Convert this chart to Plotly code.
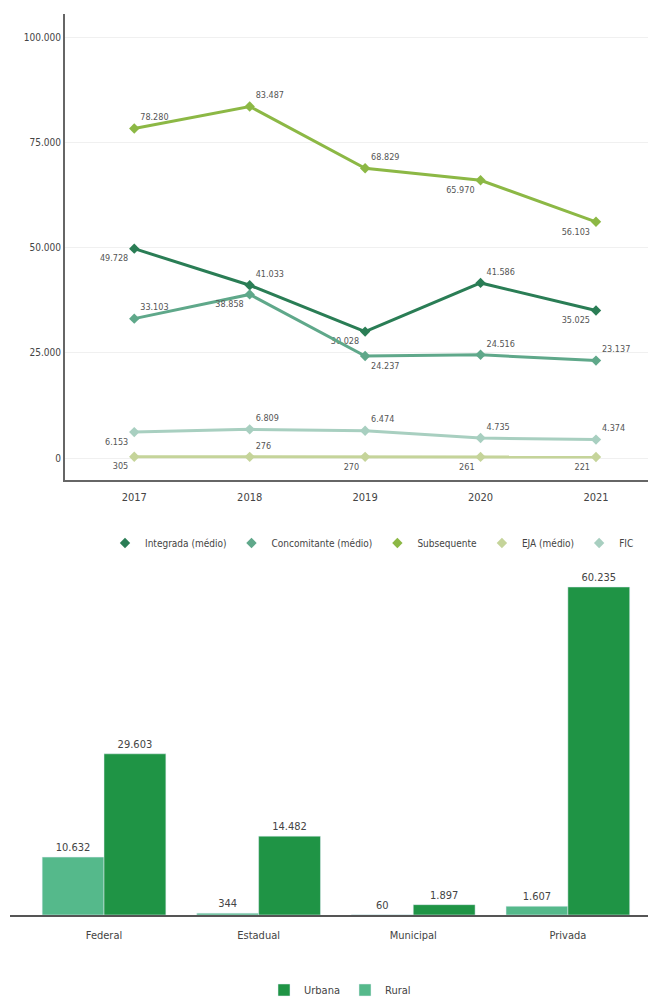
import plotly.graph_objects as go

# ---- Line chart data ----
years = ["2017", "2018", "2019", "2020", "2021"]
integrada = [49728, 41033, 30028, 41586, 35025]
concomitante = [33103, 38858, 24237, 24516, 23137]
subsequente = [78280, 83487, 68829, 65970, 56103]
eja = [305, 276, 270, 261, 221]
fic = [6153, 6809, 6474, 4735, 4374]

series_names = ["Integrada (médio)", "Concomitante (médio)", "Subsequente", "EJA (médio)", "FIC"]
y_ticks = [0, 25000, 50000, 75000, 100000]

# ---- Bar chart data ----
dependencias = ["Federal", "Estadual", "Municipal", "Privada"]
urbana = [29603, 14482, 1897, 60235]
rural = [10632, 344, 60, 1607]

# ---- styles ----
colors = ["#2a7d55", "#5fa88a", "#8cb845", "#c5d49a", "#a8cfc0"]
positions = [
    ["bottom left", "top right", "bottom left", "top right", "bottom left"],
    ["top right", "bottom left", "bottom right", "top right", "top right"],
    ["top right", "top right", "top right", "bottom left", "bottom left"],
    ["bottom left", "top right", "bottom left", "bottom left", "bottom left"],
    ["bottom left", "top right", "top right", "top right", "top right"],
]
FONT = "DejaVu Sans Condensed, Liberation Sans Narrow, Roboto, sans-serif"
W, H = 648, 993  # page body has an 8px margin; figure reaches the window bottom
OFF = 8

def fmt(v):
    return f"{v:,}".replace(",", ".")

def py(y_page):
    return 1 - (y_page - OFF) / H

def px(x_page):
    return (x_page - OFF) / W

fig = go.Figure()
for name, vals, col, pos in zip(series_names, [integrada, concomitante, subsequente, eja, fic], colors, positions):
    fig.add_trace(go.Scatter(
        x=years, y=vals, name=name, mode="lines+markers+text",
        line=dict(color=col, width=3),
        marker=dict(color=col, size=8, symbol="diamond"),
        text=[fmt(v) for v in vals], textposition=pos,
        textfont=dict(size=9, color="#555555", family=FONT),
        xaxis="x", yaxis="y", showlegend=False, cliponaxis=False,
    ))
# legend entries (marker only, as in the reference legend)
for name, col in zip(series_names, colors):
    fig.add_trace(go.Scatter(
        x=[None], y=[None], name=name, mode="markers",
        marker=dict(color=col, size=8, symbol="diamond"),
        xaxis="x", yaxis="y", legend="legend",
    ))

fig.add_trace(go.Bar(
    x=dependencias, y=rural, name="Rural", marker_color="#55b98b",
    text=[fmt(v) for v in rural], textposition="outside",
    textfont=dict(size=11, color="#444444", family=FONT),
    xaxis="x2", yaxis="y2", legend="legend2", legendrank=2, cliponaxis=False,
))
fig.add_trace(go.Bar(
    x=dependencias, y=urbana, name="Urbana", marker_color="#1f9445",
    text=[fmt(v) for v in urbana], textposition="outside",
    textfont=dict(size=11, color="#444444", family=FONT),
    xaxis="x2", yaxis="y2", legend="legend2", legendrank=1, cliponaxis=False,
))

fig.update_layout(
    width=W, height=H,
    margin=dict(l=0, r=0, t=0, b=0, autoexpand=False),
    paper_bgcolor="white", plot_bgcolor="white",
    font=dict(family=FONT, size=11, color="#444444"),
    barmode="group", bargap=0.2, bargroupgap=0,
    xaxis=dict(domain=[px(65), 1], range=[-0.6, 4.52], showline=True, linecolor="#666666",
               linewidth=2, showgrid=False, ticks="outside", ticklen=6, tickcolor="rgba(0,0,0,0)",
               tickfont=dict(size=11, color="#444444"), automargin=False, anchor="y"),
    yaxis=dict(domain=[py(480), py(14)], range=[-5226, 105463], tickvals=y_ticks,
               ticktext=[fmt(v) for v in y_ticks],
               showline=True, linecolor="#666666", linewidth=2, showgrid=True,
               gridcolor="#f0f0f0", gridwidth=1, zeroline=False, ticks="",
               tickfont=dict(size=10, color="#444444"), automargin=False, anchor="x"),
    xaxis2=dict(domain=[px(10), 1], range=[-0.608, 3.57], showline=True, linecolor="#555555",
                linewidth=1.5, showgrid=False, ticks="outside", ticklen=9, tickcolor="rgba(0,0,0,0)",
                tickfont=dict(size=11, color="#444444"), automargin=False, anchor="y2"),
    yaxis2=dict(domain=[py(915), py(555.6)], range=[0, 66000], visible=False,
                showgrid=False, automargin=False, anchor="x2"),
    legend=dict(orientation="h", x=px(372), xanchor="center", y=py(543), yanchor="middle",
                font=dict(size=10, color="#444444"), itemwidth=30, tracegroupgap=0),
    legend2=dict(orientation="h", x=px(340), xanchor="center", y=py(990), yanchor="middle",
                 font=dict(size=11, color="#444444")),
)

fig.write_html("out.html")
